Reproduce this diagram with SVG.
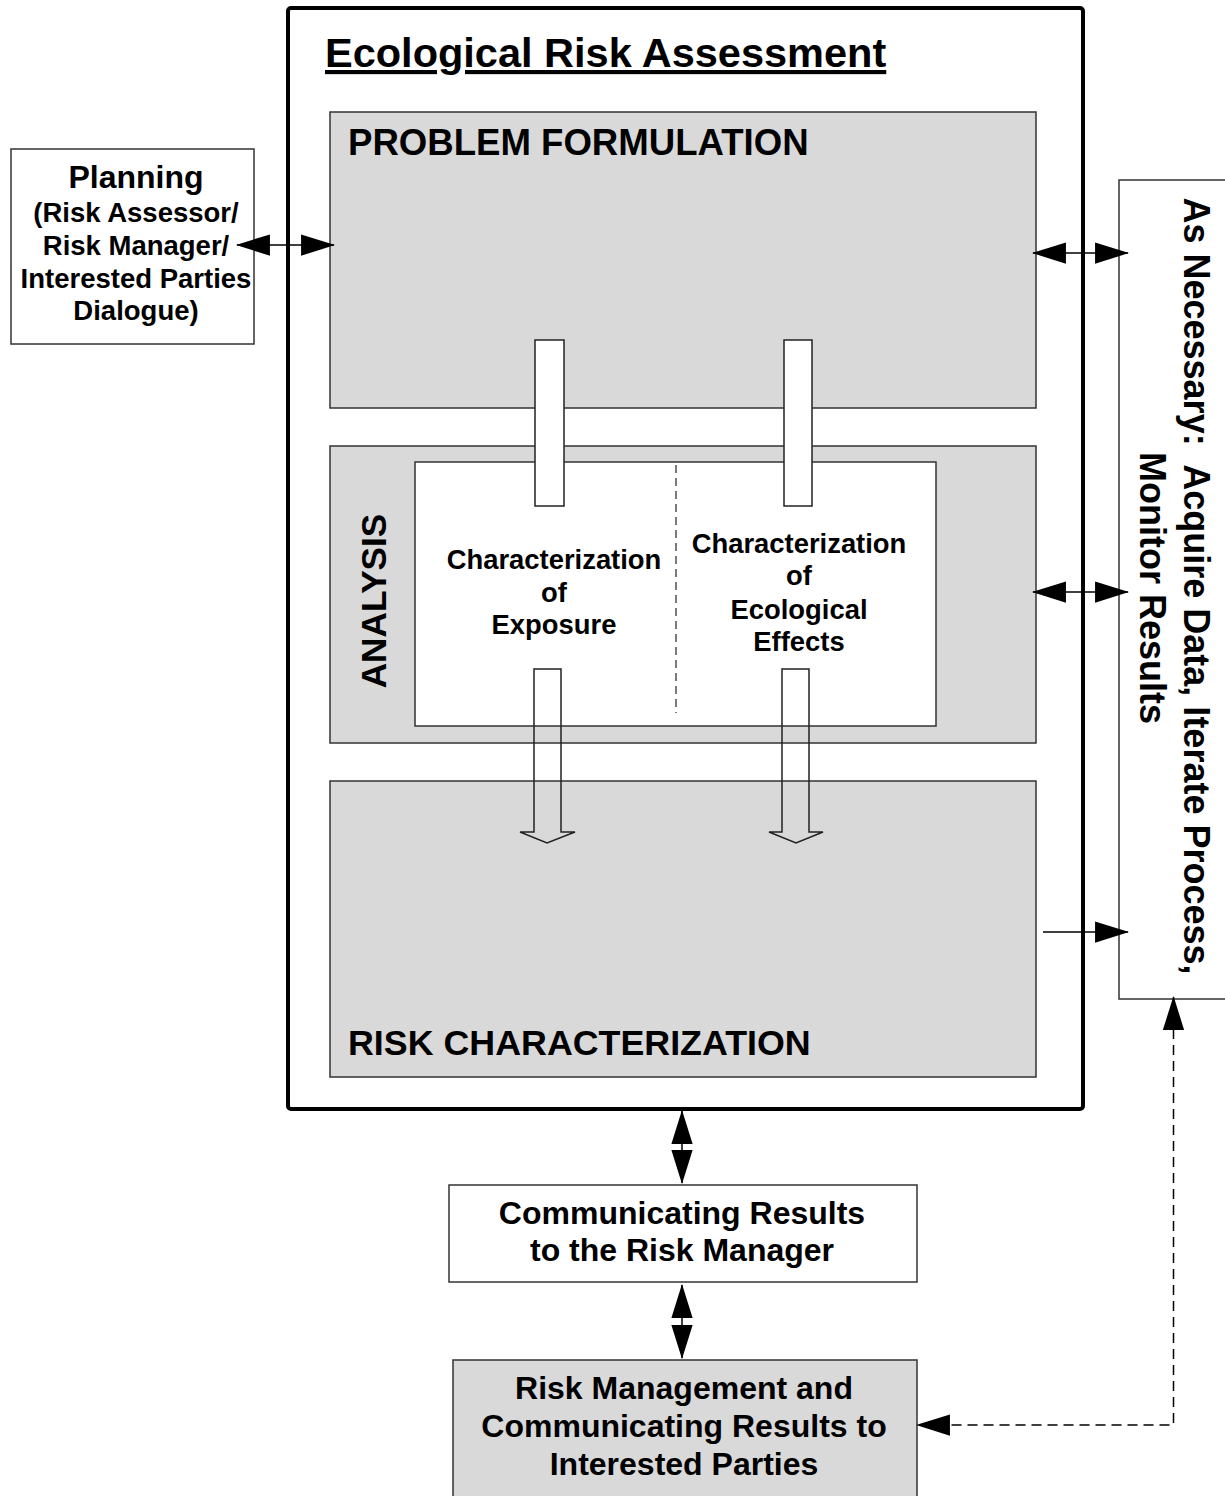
<svg xmlns="http://www.w3.org/2000/svg" width="1225" height="1496" viewBox="0 0 1225 1496">
<style>
text{font-family:"Liberation Sans",Arial,sans-serif;font-weight:bold;fill:#000}
.box{stroke:#333;stroke-width:1.5}
.gray{fill:#d9d9d9}
.white{fill:#fff}
.conn{stroke:#000;stroke-width:1.5;fill:none}
.hollow{stroke:#222;stroke-width:1.5}
.c{text-anchor:middle}
</style>
<defs>
<marker id="ah" markerUnits="userSpaceOnUse" markerWidth="34" markerHeight="22" viewBox="0 0 32 20" refX="31" refY="10" orient="auto-start-reverse">
<path d="M0,0 L32,10 L0,20 z" fill="#000"/>
</marker>
</defs>
<rect width="1225" height="1496" fill="#fff"/>

<g id="outer">
<rect x="288" y="8" width="795" height="1101" rx="3" fill="#fff" stroke="#000" stroke-width="4"/>
<text x="325" y="67" font-size="41.5" text-decoration="underline">Ecological Risk Assessment</text>
</g>

<g id="problem-formulation">
<rect class="box gray" x="330" y="112" width="706" height="296"/>
<text x="348" y="155" font-size="36.6">PROBLEM FORMULATION</text>
</g>

<g id="analysis">
<rect class="box gray" x="330" y="446" width="706" height="297"/>
<rect class="box white" x="415" y="462" width="521" height="264"/>
<line x1="676" y1="465" x2="676" y2="713" stroke="#222" stroke-width="1.2" stroke-dasharray="8 5"/>
<text class="c" font-size="35.2" transform="translate(386,601) rotate(-90)">ANALYSIS</text>
</g>

<g id="exposure">
<text class="c" x="554" y="569" font-size="27.4">Characterization</text>
<text class="c" x="554" y="602" font-size="27.4">of</text>
<text class="c" x="554" y="634" font-size="27.4">Exposure</text>
</g>

<g id="effects">
<text class="c" x="799" y="553" font-size="27.4">Characterization</text>
<text class="c" x="799" y="585" font-size="27.4">of</text>
<text class="c" x="799" y="619" font-size="27.4">Ecological</text>
<text class="c" x="799" y="651" font-size="27.4">Effects</text>
</g>

<g id="risk-characterization">
<rect class="box gray" x="330" y="781" width="706" height="296"/>
<text x="348" y="1055" font-size="35.8">RISK CHARACTERIZATION</text>
</g>

<g id="planning">
<rect class="box white" x="11" y="149" width="243" height="195"/>
<text class="c" x="136" y="188" font-size="32">Planning</text>
<text class="c" x="136" y="222" font-size="27.5">(Risk Assessor/</text>
<text class="c" x="136" y="255" font-size="27.5">Risk Manager/</text>
<text class="c" x="136" y="288" font-size="27.5">Interested Parties</text>
<text class="c" x="136" y="320" font-size="27.5">Dialogue)</text>
</g>

<g id="as-necessary">
<rect class="box white" x="1119" y="180" width="130" height="819"/>
<text class="c" font-size="36" transform="translate(1184,586) rotate(90)" xml:space="preserve">As Necessary:  Acquire Data, Iterate Process,</text>
<text class="c" font-size="36" transform="translate(1140,588) rotate(90)">Monitor Results</text>
</g>

<g id="communicating">
<rect class="box white" x="449" y="1185" width="468" height="97"/>
<text class="c" x="682" y="1224" font-size="32">Communicating Results</text>
<text class="c" x="682" y="1261" font-size="32">to the Risk Manager</text>
</g>

<g id="risk-management">
<rect class="box gray" x="453" y="1360" width="464" height="150"/>
<text class="c" x="684" y="1399" font-size="32">Risk Management and</text>
<text class="c" x="684" y="1437" font-size="32">Communicating Results to</text>
<text class="c" x="684" y="1475" font-size="32">Interested Parties</text>
</g>

<g id="connectors">
<rect class="hollow white" x="535" y="340" width="29" height="166"/>
<rect class="hollow white" x="784" y="340" width="28" height="166"/>
<polygon class="hollow" fill="none" points="534,669 561,669 561,832 575,832 547,843 520,832 534,832"/>
<polygon class="hollow" fill="none" points="782,669 809,669 809,832 823,832 796,843 769,832 782,832"/>
<line class="conn" x1="237" y1="245" x2="334" y2="245" marker-start="url(#ah)" marker-end="url(#ah)"/>
<line class="conn" x1="1033" y1="253" x2="1128" y2="253" marker-start="url(#ah)" marker-end="url(#ah)"/>
<line class="conn" x1="1033" y1="592" x2="1128" y2="592" marker-start="url(#ah)" marker-end="url(#ah)"/>
<line class="conn" x1="1043" y1="932" x2="1128" y2="932" marker-end="url(#ah)"/>
<line class="conn" x1="682" y1="1111" x2="682" y2="1183" marker-start="url(#ah)" marker-end="url(#ah)"/>
<line class="conn" x1="682" y1="1285" x2="682" y2="1358" marker-start="url(#ah)" marker-end="url(#ah)"/>
<path class="conn" d="M1173.5,997 L1173.5,1425 L917,1425" stroke-dasharray="10 6" marker-start="url(#ah)" marker-end="url(#ah)"/>
</g>
</svg>
